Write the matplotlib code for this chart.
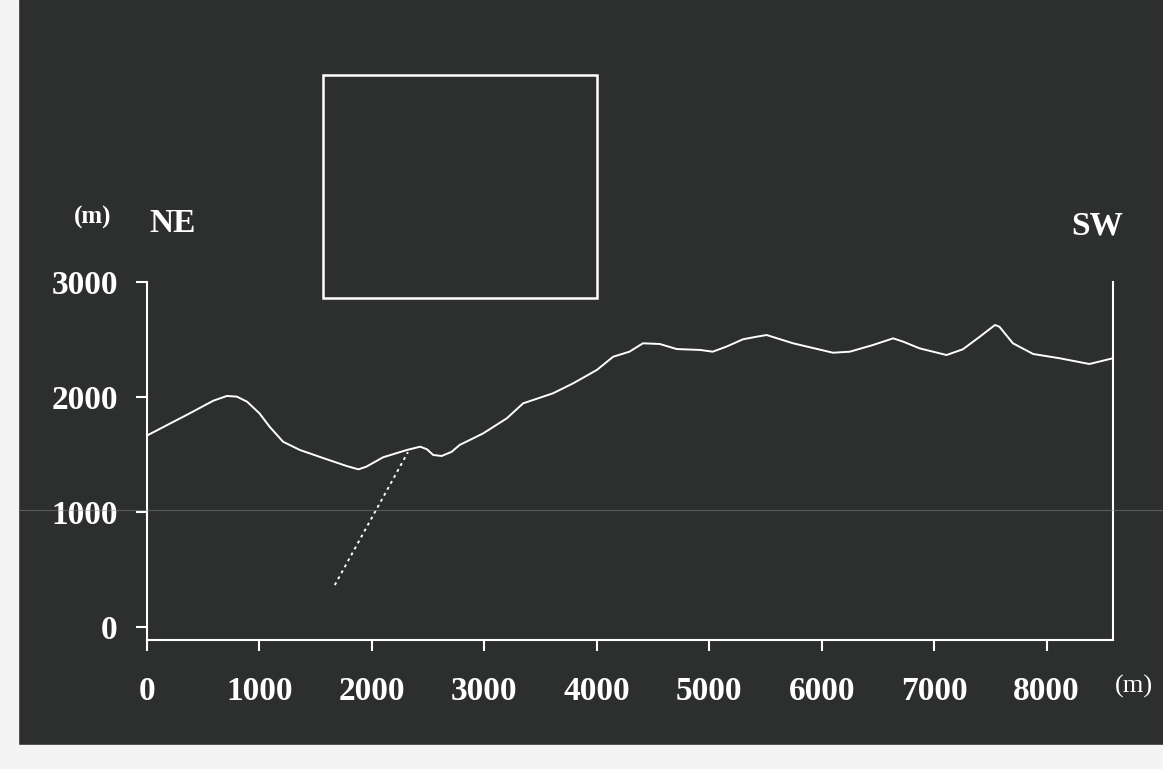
import matplotlib.pyplot as plt
from matplotlib.patches import Rectangle
from matplotlib.lines import Line2D

# profile NE -> SW, distance (m) and elevation (m)
dist = [0, 380, 590, 710, 800, 890, 1000, 1090, 1210, 1360, 1600, 1775,
        1880, 1950, 2100, 2310, 2430, 2490, 2545, 2620, 2710, 2780, 2870,
        2990, 3200, 3345, 3610, 3790, 4000, 4145, 4290, 4410, 4560, 4710,
        4920, 5030, 5150, 5300, 5420, 5510, 5745, 6100, 6250, 6455, 6635,
        6725, 6870, 7110, 7255, 7405, 7540, 7580, 7700, 7880, 8115, 8380,
        8590]
elev = [1665, 1858, 1968, 2009, 2003, 1959, 1858, 1742, 1611, 1539, 1458,
        1400, 1371, 1394, 1476, 1539, 1568, 1545, 1496, 1487, 1524, 1583,
        1626, 1684, 1815, 1945, 2032, 2119, 2235, 2350, 2394, 2467, 2461,
        2417, 2409, 2394, 2437, 2502, 2524, 2539, 2467, 2385, 2394, 2452,
        2510, 2481, 2423, 2365, 2415, 2524, 2626, 2611, 2467, 2374, 2337,
        2287, 2337]

# dotted line (fault trace)
fault_x = [1670, 2320]
fault_y = [365, 1520]

xticks = [0, 1000, 2000, 3000, 4000, 5000, 6000, 7000, 8000]
yticks = [0, 1000, 2000, 3000]

bg = '#2c2f2e'
fg = 'white'
serif = ['Liberation Serif', 'DejaVu Serif']

fig = plt.figure(figsize=(11.63, 7.69), dpi=100, facecolor=bg)

# scan edges
fig.patches.append(Rectangle((0, 0), 18 / 1163, 1, transform=fig.transFigure,
                             color='#f4f4f4', zorder=0))
fig.patches.append(Rectangle((0, 0), 1, 24 / 769, transform=fig.transFigure,
                             color='#f4f4f4', zorder=0))

ax = fig.add_axes([147 / 1163, 1 - 640 / 769, (1113 - 147) / 1163, (640 - 282) / 769])
ax.set_facecolor('none')
ax.plot(dist, elev, color=fg, lw=1.4)
ax.plot(fault_x, fault_y, color=fg, lw=1.4, ls=(0, (1.5, 2)))

ax.set_xlim(0, 8590)
ax.set_ylim(-113, 3000)
ax.set_xticks(xticks)
ax.set_yticks(yticks)
for s in ['left', 'bottom', 'right']:
    ax.spines[s].set_color(fg)
    ax.spines[s].set_linewidth(1.5)
ax.spines['top'].set_visible(False)
ax.tick_params(axis='y', colors=fg, direction='out', length=8, width=1.5, pad=13)
ax.tick_params(axis='x', colors=fg, direction='out', length=8, width=1.5, pad=18)
for lab in ax.get_xticklabels() + ax.get_yticklabels():
    lab.set_family(serif)
    lab.set_fontweight('bold')
    lab.set_fontsize(24)
    lab.set_color(fg)

# faint scan line at 1000 m
fig.add_artist(Line2D([20 / 1163, 1], [1 - 510 / 769] * 2, transform=fig.transFigure,
                      color='#8a8d8c', lw=0.8, alpha=0.5))

# empty frame above the chart
fig.patches.append(Rectangle((323 / 1163, 1 - 298 / 769), (597 - 323) / 1163,
                             (298 - 75) / 769, transform=fig.transFigure,
                             fill=False, edgecolor=fg, lw=1.8))

fig.text(93 / 1163, 1 - 217 / 769, '(m)', color=fg, family=serif, fontsize=18,
         fontweight='bold', ha='center', va='center')
fig.text(173 / 1163, 1 - 224 / 769, 'NE', color=fg, family=serif, fontsize=24,
         fontweight='bold', ha='center', va='center')
fig.text(1097 / 1163, 1 - 226 / 769, 'SW', color=fg, family=serif, fontsize=24,
         fontweight='bold', ha='center', va='center')
fig.text(1134 / 1163, 1 - 686 / 769, '(m)', color=fg, family=serif, fontsize=19,
         ha='center', va='center')

fig.savefig('out.png', dpi=100, facecolor=bg)
